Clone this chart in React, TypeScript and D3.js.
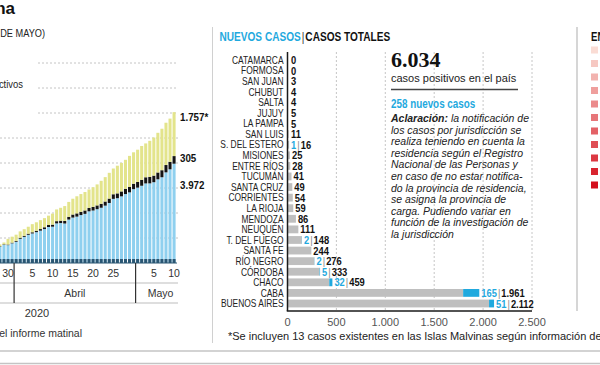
import { useEffect, useRef } from "react";
import * as d3 from "d3";

// ---- left chart: daily accumulated cases (Mar 28 - May 10, 2020)
const days = [
  "2020-03-28", "2020-03-29", "2020-03-30", "2020-03-31",
  "2020-04-01", "2020-04-02", "2020-04-03", "2020-04-04", "2020-04-05", "2020-04-06",
  "2020-04-07", "2020-04-08", "2020-04-09", "2020-04-10", "2020-04-11", "2020-04-12",
  "2020-04-13", "2020-04-14", "2020-04-15", "2020-04-16", "2020-04-17", "2020-04-18",
  "2020-04-19", "2020-04-20", "2020-04-21", "2020-04-22", "2020-04-23", "2020-04-24",
  "2020-04-25", "2020-04-26", "2020-04-27", "2020-04-28", "2020-04-29", "2020-04-30",
  "2020-05-01", "2020-05-02", "2020-05-03", "2020-05-04", "2020-05-05", "2020-05-06",
  "2020-05-07", "2020-05-08", "2020-05-09", "2020-05-10",
];
const totalCases = [
  745, 820, 966, 1054,
  1133, 1265, 1353, 1451, 1554, 1628,
  1715, 1795, 1894, 1975, 2142, 2208,
  2277, 2443, 2571, 2669, 2758, 2839,
  2941, 3031, 3144, 3288, 3435, 3607,
  3780, 3892, 4003, 4127, 4285, 4428,
  4532, 4681, 4783, 4887, 5020, 5208,
  5371, 5611, 5776, 6034,
];
const deaths = [
  19, 20, 24, 27,
  36, 39, 42, 44, 48, 56,
  63, 72, 79, 82, 90, 95,
  102, 109, 122, 129, 132, 136,
  137, 147, 152, 159, 165, 176,
  185, 192, 197, 207, 214, 218,
  225, 237, 246, 260, 264, 273,
  282, 293, 300, 305,
];
const recovered = [
  72, 72, 228, 240,
  248, 256, 266, 279, 325, 338,
  358, 365, 375, 440, 468, 515,
  596, 596, 632, 685, 709, 737,
  737, 785, 840, 919, 976, 1030,
  1030, 1107, 1140, 1162, 1245, 1256,
  1292, 1354, 1354, 1442, 1524, 1587,
  1659, 1692, 1728, 1757,
];
const dayTicks = ["2020-03-30", "2020-04-05", "2020-04-10", "2020-04-15", "2020-04-20", "2020-04-25", "2020-05-05", "2020-05-10"];
const yGrid = [1000, 2000, 3000, 4000, 5000, 6000, 7000, 8000];

// ---- middle chart: cases by province
const provinces = [
  "CATAMARCA", "FORMOSA", "SAN JUAN", "CHUBUT", "SALTA", "JUJUY", "LA PAMPA", "SAN LUIS",
  "S. DEL ESTERO", "MISIONES", "ENTRE RÍOS", "TUCUMÁN", "SANTA CRUZ", "CORRIENTES",
  "LA RIOJA", "MENDOZA", "NEUQUÉN", "T. DEL FUEGO", "SANTA FE", "RÍO NEGRO", "CÓRDOBA",
  "CHACO", "CABA", "BUENOS AIRES",
];
const newCases = [0, 0, 0, 0, 0, 0, 0, 0, 1, 0, 0, 0, 0, 0, 0, 0, 0, 2, 0, 2, 5, 32, 165, 51];
const provTotals = [0, 0, 3, 4, 4, 5, 5, 11, 16, 25, 28, 41, 49, 54, 59, 86, 111, 148, 244, 276, 333, 459, 1961, 2112];
const xTicks = [0, 500, 1000, 1500, 2000, 2500];

const noteLines = [
  "la notificación de",
  "los casos por jurisdicción se",
  "realiza teniendo en cuenta la",
  "residencia según el Registro",
  "Nacional de las Personas y",
  "en caso de no estar notifica-",
  "do la provincia de residencia,",
  "se asigna la provincia de",
  "carga. Pudiendo variar en",
  "función de la investigación de",
  "la jurisdicción",
];
const legendSteps = 11;

const SANS = '"Liberation Sans", Arial, sans-serif';
const SERIF = '"Liberation Serif", "DejaVu Serif", serif';
const CYAN = "#1fa9de";

const es = d3.formatLocale({ decimal: ",", thousands: ".", grouping: [3], currency: ["$", ""] });
const fmt = es.format(",");

// fake a condensed face: shrink the measured width of each text
function squeeze(sel: any, k: number) {
  sel.each(function (this: SVGTextElement) {
    const w = this.getComputedTextLength();
    if (w > 0) {
      this.setAttribute("textLength", String(w * k));
      this.setAttribute("lengthAdjust", "spacingAndGlyphs");
    }
  });
}

type Part = { t: string; fill: string; bold?: boolean; gap?: number };

// left-anchored sequence of differently styled pieces, one <text> each
function runs(g: any, x0: number, y0: number, parts: Part[], size: number, k: number, italic = false) {
  let xx = x0;
  parts.forEach(p => {
    const t = g.append("text").attr("x", xx).attr("y", y0)
      .attr("font-family", SANS).attr("font-size", size)
      .attr("font-weight", p.bold ? "bold" : "normal")
      .attr("font-style", italic ? "italic" : "normal")
      .attr("fill", p.fill).text(p.t);
    const w = (t.node() as SVGTextElement).getComputedTextLength();
    squeeze(t, k);
    xx += w * k + (p.gap ?? 0.6);
  });
  return xx;
}

export default function App() {
  const ref = useRef<SVGSVGElement | null>(null);

  useEffect(() => {
    if (!ref.current) return;
    const svg = d3.select(ref.current);
    svg.selectAll("*").remove();

    svg.append("rect").attr("width", 600).attr("height", 365).attr("fill", "#fff");

    /* ---------------- LEFT: stacked daily bars ---------------- */

    const x = d3.scaleBand().domain(days).range([-2.1, 176.1]).paddingInner(0.25).paddingOuter(0.125);
    const y = d3.scaleLinear().domain([0, 8000]).range([263, 63]);
    const cx = (d: string) => x(d)! + x.bandwidth() / 2;

    const left = svg.append("g");

    left.append("text").attr("x", 15).attr("y", 14).attr("text-anchor", "end")
      .attr("font-family", SANS).attr("font-weight", "bold").attr("font-size", 17).attr("fill", "#111")
      .text("Coronavirus en Argentina");
    const sub = left.append("text").attr("x", 45).attr("y", 37).attr("text-anchor", "end")
      .attr("font-family", SANS).attr("font-size", 11.5).attr("fill", "#222")
      .text("CASOS CONFIRMADOS (AL 10 DE MAYO)");
    squeeze(sub, 0.8);
    const act = left.append("text").attr("x", 23).attr("y", 88).attr("text-anchor", "end")
      .attr("font-family", SANS).attr("font-size", 11.5).attr("fill", "#222")
      .text("Casos activos");
    squeeze(act, 0.82);

    left.selectAll(".grid").data(yGrid).enter().append("line")
      .attr("x1", d => (d >= 6000 ? 38 : 0)).attr("x2", 178)
      .attr("y1", d => y(d)).attr("y2", d => y(d))
      .attr("stroke", "#b5b5b5").attr("stroke-width", 0.8).attr("stroke-dasharray", "2,2");

    const stack = days.map((d, i) => {
      const active = totalCases[i] - deaths[i] - recovered[i];
      return { day: d, active, deaths: deaths[i], recovered: recovered[i] };
    });

    const seg = [
      { key: "active", color: "#8fd0ef", lo: (s: any) => 0, hi: (s: any) => s.active },
      { key: "deaths", color: "#141414", lo: (s: any) => s.active, hi: (s: any) => s.active + s.deaths },
      { key: "recovered", color: "#e3e48b", lo: (s: any) => s.active + s.deaths, hi: (s: any) => s.active + s.deaths + s.recovered },
    ];
    seg.forEach(sg => {
      left.selectAll(".b-" + sg.key).data(stack).enter().append("rect")
        .attr("x", d => x(d.day)!)
        .attr("width", x.bandwidth())
        .attr("y", d => y(sg.hi(d)))
        .attr("height", d => y(sg.lo(d)) - y(sg.hi(d)))
        .attr("fill", sg.color);
    });

    // dark foot of each bar + baseline
    left.selectAll(".foot").data(days).enter().append("rect")
      .attr("x", d => x(d)!).attr("width", x.bandwidth())
      .attr("y", 259).attr("height", 4).attr("fill", "#2a5673");
    left.append("line").attr("x1", 0).attr("x2", 177).attr("y1", 263).attr("y2", 263)
      .attr("stroke", "#2a5673").attr("stroke-width", 1);

    const last = stack[stack.length - 1];
    const lblX = 180;
    const lbl = (txt: string, yy: number) =>
      left.append("text").attr("x", lblX).attr("y", yy)
        .attr("font-family", SANS).attr("font-weight", "bold").attr("font-size", 11.5).attr("fill", "#111").text(txt);
    const l1 = lbl(fmt(last.recovered) + "*", y(last.active + last.deaths + last.recovered) + 9);
    const l2 = lbl(fmt(last.deaths), y(last.active + last.deaths) + 6);
    const l3 = lbl(fmt(last.active), y(last.active) + 25);
    squeeze(l1, 0.85); squeeze(l2, 0.85); squeeze(l3, 0.85);

    left.selectAll(".dtick").data(dayTicks).enter().append("text")
      .attr("x", d => cx(d)).attr("y", 277).attr("text-anchor", "middle")
      .attr("font-family", SANS).attr("font-size", 10.5).attr("fill", "#333")
      .text(d => String(+d.slice(8)));

    const bAprX = (cx("2020-03-31") + cx("2020-04-01")) / 2;
    const bMayX = (cx("2020-04-30") + cx("2020-05-01")) / 2;
    [283, 303].forEach(yy =>
      left.append("line").attr("x1", 0).attr("x2", 178).attr("y1", yy).attr("y2", yy)
        .attr("stroke", "#bdbdbd").attr("stroke-width", 1.2));
    [bAprX, bMayX].forEach(xx =>
      left.append("line").attr("x1", xx).attr("x2", xx).attr("y1", 263).attr("y2", 303)
        .attr("stroke", "#333").attr("stroke-width", 1.2));
    left.append("text").attr("x", (bAprX + bMayX) / 2).attr("y", 297).attr("text-anchor", "middle")
      .attr("font-family", SANS).attr("font-size", 10.5).attr("fill", "#333").text("Abril");
    left.append("text").attr("x", bMayX + 25).attr("y", 297).attr("text-anchor", "middle")
      .attr("font-family", SANS).attr("font-size", 10.5).attr("fill", "#333").text("Mayo");
    left.append("text").attr("x", 37).attr("y", 317).attr("text-anchor", "middle")
      .attr("font-family", SANS).attr("font-size", 11).attr("fill", "#333").text("2020");
    left.append("text").attr("x", 82).attr("y", 337).attr("text-anchor", "end")
      .attr("font-family", SANS).attr("font-size", 10.5).attr("fill", "#333")
      .text("*Recuperados según el informe matinal");

    /* ---------------- MIDDLE: provinces ---------------- */

    const mid = svg.append("g");
    mid.append("line").attr("x1", 212.5).attr("x2", 212.5).attr("y1", 27).attr("y2", 343)
      .attr("stroke", "#d0d0d0").attr("stroke-width", 1);

    runs(mid, 219.5, 41, [
      { t: "NUEVOS CASOS", fill: CYAN, bold: true, gap: 1 },
      { t: "|", fill: "#333", gap: 1 },
      { t: "CASOS TOTALES", fill: "#111", bold: true },
    ], 12.3, 0.82);

    const px = d3.scaleLinear().domain([0, 2500]).range([287.5, 532]);
    const py = d3.scalePoint().domain(provinces).range([60, 303.5]);
    const barH = 7.8;

    mid.selectAll(".vgrid").data(xTicks.slice(1)).enter().append("line")
      .attr("x1", d => px(d)).attr("x2", d => px(d)).attr("y1", 52).attr("y2", 311)
      .attr("stroke", "#b8b8b8").attr("stroke-width", 0.8).attr("stroke-dasharray", "2,2");

    const rows = provinces.map((p, i) => ({ p, n: newCases[i], t: provTotals[i] }));

    mid.selectAll(".pbar").data(rows).enter().append("rect")
      .attr("x", px(0)).attr("y", d => py(d.p)! - barH / 2)
      .attr("width", d => px(d.t - d.n) - px(0)).attr("height", barH).attr("fill", "#bfbfbf");
    mid.selectAll(".nbar").data(rows.filter(r => r.n > 0)).enter().append("rect")
      .attr("x", d => px(d.t - d.n)).attr("y", d => py(d.p)! - barH / 2)
      .attr("width", d => px(d.t) - px(d.t - d.n)).attr("height", barH).attr("fill", CYAN);

    const pl = mid.selectAll(".plab").data(rows).enter().append("text")
      .attr("x", 283.5).attr("y", d => py(d.p)! + 3.8).attr("text-anchor", "end")
      .attr("font-family", SANS).attr("font-size", 10.5).attr("fill", "#222")
      .text(d => d.p);
    squeeze(pl, 0.8);

    rows.forEach(d => {
      const parts: Part[] = [];
      if (d.n > 0) {
        parts.push({ t: fmt(d.n), fill: CYAN, bold: true, gap: 1 });
        parts.push({ t: "|", fill: "#888", gap: 1 });
      }
      parts.push({ t: fmt(d.t), fill: "#111", bold: true });
      runs(mid, Math.max(px(d.t), px(0) + 1.5) + 2, py(d.p)! + 4, parts, 11, 0.85);
    });

    mid.append("line").attr("x1", px(0)).attr("x2", px(0)).attr("y1", 52).attr("y2", 311)
      .attr("stroke", "#1a1a1a").attr("stroke-width", 1.5);
    mid.append("line").attr("x1", px(0) - 0.75).attr("x2", px(2500)).attr("y1", 311).attr("y2", 311)
      .attr("stroke", "#1a1a1a").attr("stroke-width", 1.5);

    mid.selectAll(".xt").data(xTicks).enter().append("text")
      .attr("x", d => px(d)).attr("y", 326).attr("text-anchor", "middle")
      .attr("font-family", SANS).attr("font-size", 11).attr("fill", "#555")
      .text(d => fmt(d));

    mid.append("text").attr("x", 228).attr("y", 340)
      .attr("font-family", SANS).attr("font-size", 11).attr("fill", "#222")
      .text("*Se incluyen 13 casos existentes en las Islas Malvinas según información de provincia");

    /* ---------------- summary box ---------------- */

    mid.append("text").attr("x", 391).attr("y", 67)
      .attr("font-family", SERIF).attr("font-weight", "bold").attr("font-size", 22).attr("fill", "#111")
      .text(fmt(totalCases[totalCases.length - 1]));
    mid.append("text").attr("x", 391).attr("y", 82)
      .attr("font-family", SANS).attr("font-size", 11).attr("fill", "#222")
      .text("casos positivos en el país");
    mid.append("line").attr("x1", 391).attr("x2", 518).attr("y1", 89.5).attr("y2", 89.5)
      .attr("stroke", "#444").attr("stroke-width", 1.5);
    const nn = mid.append("text").attr("x", 391).attr("y", 107.5)
      .attr("font-family", SANS).attr("font-weight", "bold").attr("font-size", 12).attr("fill", CYAN)
      .text(`${d3.sum(newCases)} nuevos casos`);
    squeeze(nn, 0.82);

    noteLines.forEach((line, i) => {
      const parts: Part[] = [];
      if (i === 0) parts.push({ t: "Aclaración:", fill: "#222", bold: true, gap: 3 });
      parts.push({ t: line, fill: "#222" });
      runs(mid, 391, 122 + i * 11.6, parts, 11.5, 0.91, true);
    });

    /* ---------------- RIGHT: map legend (cut) ---------------- */

    const right = svg.append("g");
    right.append("line").attr("x1", 577).attr("x2", 577).attr("y1", 27).attr("y2", 311)
      .attr("stroke", "#c8c8c8").attr("stroke-width", 1.5);
    const rt = right.append("text").attr("x", 591).attr("y", 41)
      .attr("font-family", SANS).attr("font-weight", "bold").attr("font-size", 12).attr("fill", "#111")
      .text("EN EL PAÍS");
    squeeze(rt, 0.8);
    const steps = d3.range(legendSteps);
    const red = d3.scaleLinear<string>().domain([0, legendSteps - 1]).range(["#fadcd4", "#d40f1d"])
      .interpolate(d3.interpolateRgb);
    const ly = d3.scaleLinear().domain([0, legendSteps - 1]).range([50, 185]);
    right.selectAll(".sw").data(steps).enter().append("rect")
      .attr("x", 591).attr("y", d => ly(d) - 3.5).attr("width", 7).attr("height", 7)
      .attr("fill", d => red(d));

    /* ---------------- page rules ---------------- */
    [351, 363.5].forEach(yy =>
      svg.append("line").attr("x1", 0).attr("x2", 600).attr("y1", yy).attr("y2", yy)
        .attr("stroke", "#c4c4c4").attr("stroke-width", 1.3));
  }, []);

  return (
    <svg
      ref={ref}
      width={600}
      height={365}
      style={{ position: "absolute", left: 0, top: 0, overflow: "hidden" }}
    />
  );
}
